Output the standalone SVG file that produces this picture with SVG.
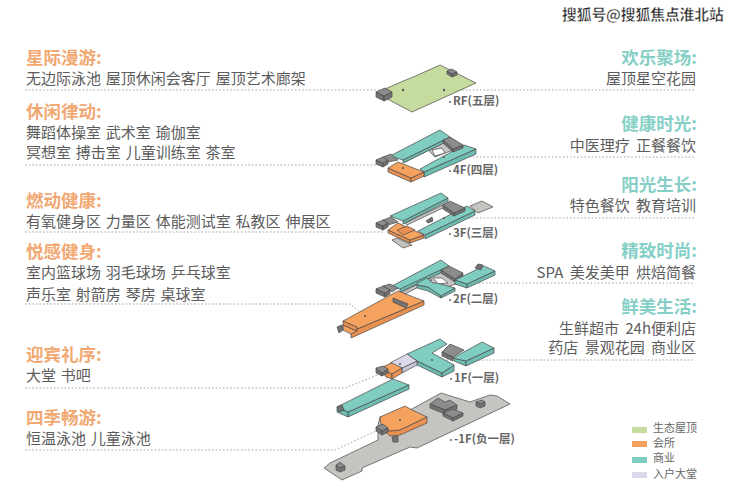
<svg xmlns="http://www.w3.org/2000/svg" width="740" height="498" viewBox="0 0 740 498">
<style>
text{font-family:"Noto Sans CJK SC","Liberation Sans",sans-serif}
.tl{font-size:17.5px;font-weight:700;fill:#f2a873}
.tr{font-size:17.5px;font-weight:700;fill:#85cfc6;text-anchor:end}
.b{font-size:15px;fill:#5c5c5c;word-spacing:1.5px}
.br{font-size:15px;fill:#5c5c5c;text-anchor:end;word-spacing:3px}
.f{font-size:11.5px;font-weight:700;fill:#666}
.lg{font-size:11px;fill:#666}
.wm{font-size:14.7px;font-weight:700;fill:#222;stroke:#fff;stroke-width:.4px}
polygon{stroke:#474747;stroke-width:.7;stroke-linejoin:round}
.g{fill:#c6dc9f}.t{fill:#7fccc1}.ts{fill:#6cbcb1}.o{fill:#f5a25f}.os{fill:#ea9050}
.d{fill:#8c8c8c}.ds{fill:#737373}.l{fill:#dcd8ec}.ls{fill:#c9c5dc}.c{fill:#c5c4c1}.w{fill:#fff}
.ln{stroke:#a3a3a3;stroke-width:1;stroke-dasharray:1.6 2;fill:none}
.dot{fill:#555}
.sw{stroke:none}
</style>
<g id="connectors">
<path class="ln" d="M25 90H403M444 90H695"/>
<path class="ln" d="M25 165H376M444 157H695"/>
<path class="ln" d="M25 232H385M444 218H695"/>
<path class="ln" d="M25 304H350L365 316"/>
<path class="ln" d="M450 283H695"/>
<path class="ln" d="M25 388H345L385 372"/>
<path class="ln" d="M432 360H695"/>
<path class="ln" d="M25 450H335L400 420"/>
</g>
<g id="floor-rf">
<polygon class="g" points="376,93 408,79 411,78 440,65 476,83 412,112"/>
<polygon class="ds" points="376,92 384,96 384,101 376,97"/><polygon class="ds" points="384,96 392,92 392,97 384,101"/>
<polygon class="d" points="376,92 385,88 392,92 384,96"/>
<polygon class="ds" points="447,71 452,74 452,77 447,74"/><polygon class="ds" points="452,74 457,72 457,75 452,77"/>
<polygon class="d" points="447,71 452,69 457,72 452,74"/>
<circle class="dot" cx="403" cy="90" r="1.2"/><circle class="dot" cx="444" cy="90" r="1.2"/>
<circle class="dot" cx="450" cy="102" r=".9"/><text class="f" x="453" y="105">RF(五层)</text>
</g>
<g id="floor-4f">
<polygon class="c" points="426,148 445,140 453,150 435,157"/>
<polygon class="w" points="432,150 442,148 445,153 435,156"/>
<polygon class="ts" points="424,172 476,149 476,154 424,177"/>
<polygon class="t" points="420,169 464,145 476,149 424,172"/>
<polygon class="c" points="403,160 440,141 441,144 405,162"/>
<polygon class="ts" points="403,160 450,137 450,140 403,163"/>
<polygon class="t" points="390,156 440,130 450,137 403,160"/>
<polygon class="ds" points="443,140 453,149 453,152 443,143"/><polygon class="ds" points="453,149 463,145 463,148 453,152"/>
<polygon class="d" points="443,140 450,137 463,145 453,149"/>
<polygon class="os" points="388,168 411,178 411,182 388,172"/><polygon class="os" points="411,178 424,172 424,176 411,182"/>
<polygon class="o" points="388,168 398,162 424,172 411,178"/>
<polygon class="d" points="383,157 391,154 398,160 388,162"/>
<polygon class="ds" points="376,160 383,163 383,167 376,164"/><polygon class="ds" points="383,163 388,160 388,164 383,167"/>
<polygon class="d" points="376,160 383,157 388,160 383,163"/>
<circle class="dot" cx="403" cy="168" r="1"/><circle class="dot" cx="444" cy="157" r="1"/>
<circle class="dot" cx="450" cy="171" r=".9"/><text class="f" x="453" y="174">4F(四层)</text>
</g>
<g id="floor-3f">
<polygon class="c" points="392,240 397,238 412,245 403,248"/>
<polygon class="c" points="470,206 482,201 493,207 478,213"/>
<polygon class="c" points="405,223 445,204 447,206 407,225"/>
<polygon class="ts" points="403,221 448,198 448,201 403,224"/>
<polygon class="t" points="390,216 441,193 448,198 403,221"/>
<polygon class="ts" points="425,235 475,211 475,215 425,239"/>
<polygon class="t" points="418,231 467,206 475,211 425,235"/>
<polygon class="ds" points="443,205 454,213 454,216 443,209"/><polygon class="ds" points="454,213 465,208 465,211 454,216"/>
<polygon class="d" points="443,205 450,201 465,208 454,213"/>
<polygon class="ds" points="426,221 432,217 433,221 428,223"/>
<polygon class="os" points="388,230 410,240 410,243 388,233"/><polygon class="os" points="410,240 424,235 424,238 410,243"/>
<polygon class="o" points="388,230 398,223 424,235 410,240"/>
<polygon class="os" points="397,230 407,226 415,230 403,235"/>
<polygon class="d" points="383,220 391,217 398,222 388,225"/>
<polygon class="ds" points="376,223 383,226 383,230 376,227"/><polygon class="ds" points="383,226 388,223 388,227 383,230"/>
<polygon class="d" points="376,223 383,220 388,223 383,226"/>
<circle class="dot" cx="444" cy="218" r="1"/>
<circle class="dot" cx="450" cy="234" r=".9"/><text class="f" x="453" y="237">3F(三层)</text>
</g>
<g id="floor-2f">
<polygon class="c" points="430,276 441,272 458,283 440,290 420,283"/>
<polygon class="w" points="433,278 442,278 448,283 438,284"/>
<polygon class="c" points="400,293 430,278 432,280 403,295"/>
<polygon class="ts" points="400,288 449,266 449,269 400,292"/>
<polygon class="t" points="390,287 441,260 449,266 400,289"/>
<polygon class="ds" points="441,270 455,279 455,282 441,273"/><polygon class="ds" points="455,279 463,273 463,276 455,282"/>
<polygon class="d" points="441,270 449,266 463,273 455,279"/>
<polygon class="ts" points="417,285 428,287 441,296 441,298 428,291 417,288"/><polygon class="ts" points="441,296 455,288 455,291 441,298"/>
<polygon class="t" points="417,283 427,278 433,283 437,283 455,288 441,296 428,287 417,285"/>
<polygon class="ts" points="455,280 467,284 467,288 455,284"/><polygon class="ts" points="467,284 495,271 495,275 467,288"/>
<polygon class="t" points="455,280 484,266 495,271 467,284"/>
<polygon class="ds" points="475,268 478,264 483,265 481,270"/>
<polygon class="os" points="357,329 424,301 424,305 351,338 351,334"/>
<polygon class="o" points="343,325 357,331 351,334 343,330"/>
<polygon class="os" points="343,321 357,327 357,331 343,325"/>
<polygon class="o" points="343,321 398,291 424,301 357,329 357,327"/>
<polygon class="ds" points="393,298 408,304 406,308 393,302"/>
<polygon class="ds" points="337,327 342,325 343,330 339,333"/>
<polygon class="d" points="383,286 390,284 398,288 392,292"/>
<polygon class="ds" points="376,289 385,293 385,297 376,293"/><polygon class="ds" points="385,293 390,290 390,294 385,297"/>
<polygon class="d" points="376,289 383,286 390,290 385,293"/>
<circle class="dot" cx="365" cy="316" r="1"/>
<circle class="dot" cx="450" cy="300" r=".9"/><text class="f" x="453" y="303">2F(二层)</text>
</g>
<g id="floor-1f">
<polygon class="ts" points="417,361 442,373 442,377 417,365"/><polygon class="ts" points="442,373 454,365 454,371 442,377"/>
<polygon class="t" points="407,354 440,339 447,344 432,353 454,365 442,373 417,361"/>
<polygon class="ds" points="442,352 453,357 453,361 442,356"/>
<polygon class="d" points="442,352 450,344 464,350 453,357"/>
<polygon class="ts" points="454,358 466,361 466,366 454,361"/><polygon class="ts" points="466,361 494,348 494,353 466,366"/>
<polygon class="t" points="453,358 482,342 494,348 466,361"/>
<polygon class="ls" points="402,368 417,361 417,365 402,373"/>
<polygon class="l" points="390,363 407,354 417,361 402,368"/>
<polygon class="os" points="380,368 392,374 392,379 386,377"/><polygon class="os" points="392,374 402,368 402,373 392,379"/>
<polygon class="o" points="380,368 392,363 402,368 392,374"/>
<polygon class="ds" points="376,368 382,373 382,376 376,373"/><polygon class="ds" points="382,373 388,369 388,373 382,376"/>
<polygon class="d" points="376,368 383,366 388,369 382,373"/>
<polygon class="ts" points="348,412 409,385 409,389 348,417"/><polygon class="ts" points="337,407 348,412 348,417 337,412"/>
<polygon class="t" points="337,407 393,379 409,385 348,412"/>
<polygon class="ds" points="337,407 342,405 344,410 339,412"/>
<circle class="dot" cx="400" cy="364" r="1"/><circle class="dot" cx="432" cy="360" r="1"/>
<circle class="dot" cx="451" cy="379" r=".9"/><text class="f" x="454" y="382">1F(一层)</text>
</g>
<g id="floor-b1">
<polygon class="c" points="324,468 330,463 378,440 378,425 380,417 410,410 441,393 470,402 490,395 497,396 510,404 417,448 410,447 362,468 362,471 342,480"/>
<polygon class="d" points="430,404 438,398 445,402 450,400 457,405 445,410"/>
<polygon class="ds" points="430,404 445,410 445,414 430,408"/><polygon class="ds" points="445,410 457,405 457,409 445,414"/>
<polygon class="d" points="443,413 453,409 463,413 453,418"/>
<polygon class="ds" points="443,413 453,418 453,421 443,416"/><polygon class="ds" points="453,418 463,413 463,416 453,421"/>
<polygon class="os" points="381,425 390,431 400,430 427,417 427,423 400,435 390,436 386,432"/>
<polygon class="o" points="380,417 405,406 412,410 427,417 400,430 390,431 381,425"/>
<polygon class="ds" points="376,427 382,431 382,435 376,431"/><polygon class="ds" points="382,431 388,428 388,432 382,435"/>
<polygon class="d" points="376,427 383,424 388,428 382,431"/>
<polygon class="ds" points="392,437 398,436 398,442 393,442"/>
<polygon class="ds" points="336,465 340,468 345,466 345,470 340,472 336,470"/>
<polygon class="d" points="336,465 340,462 345,466 340,468"/>
<polygon class="ds" points="476,402 480,404 485,402 485,406 480,408 476,406"/>
<polygon class="d" points="476,402 482,400 485,402 480,404"/>
<circle class="dot" cx="400" cy="420" r="1"/>
<circle class="dot" cx="451" cy="440" r=".9"/><text class="f" x="454" y="443">-1F(负一层)</text>
</g>
<g id="labels-left">
<text class="tl" x="26" y="64">星际漫游:</text><text class="b" x="26" y="84">无边际泳池 屋顶休闲会客厅 屋顶艺术廊架</text>
<text class="tl" x="26" y="118">休闲律动:</text><text class="b" x="26" y="138">舞蹈体操室 武术室 瑜伽室</text><text class="b" x="26" y="158">冥想室 搏击室 儿童训练室 茶室</text>
<text class="tl" x="26" y="207">燃动健康:</text><text class="b" x="26" y="227">有氧健身区 力量区 体能测试室 私教区 伸展区</text>
<text class="tl" x="26" y="258">悦感健身:</text><text class="b" x="26" y="278">室内篮球场 羽毛球场 乒乓球室</text><text class="b" x="26" y="300">声乐室 射箭房 琴房 桌球室</text>
<text class="tl" x="26" y="361">迎宾礼序:</text><text class="b" x="26" y="381">大堂 书吧</text>
<text class="tl" x="26" y="424">四季畅游:</text><text class="b" x="26" y="444">恒温泳池 儿童泳池</text>
</g>
<g id="labels-right">
<text class="tr" x="697" y="64">欢乐聚场:</text><text class="br" x="696" y="84">屋顶星空花园</text>
<text class="tr" x="697" y="130">健康时光:</text><text class="br" x="696" y="151">中医理疗 正餐餐饮</text>
<text class="tr" x="697" y="191">阳光生长:</text><text class="br" x="696" y="211">特色餐饮 教育培训</text>
<text class="tr" x="697" y="257">精致时尚:</text><text class="br" x="696" y="278">SPA 美发美甲 烘焙简餐</text>
<text class="tr" x="697" y="313">鲜美生活:</text><text class="br" x="696" y="334">生鲜超市 24h便利店</text><text class="br" x="696" y="353">药店 景观花园 商业区</text>
</g>
<g id="legend">
<rect class="sw g" x="632" y="427" width="15" height="6"/><text class="lg" x="653" y="432">生态屋顶</text>
<rect class="sw o" x="632" y="441" width="15" height="6"/><text class="lg" x="653" y="447">会所</text>
<rect class="sw t" x="632" y="457" width="15" height="6"/><text class="lg" x="653" y="462">商业</text>
<rect class="sw l" x="632" y="472" width="15" height="6"/><text class="lg" x="653" y="478">入户大堂</text>
</g>
<text class="wm" x="562" y="20">搜狐号@搜狐焦点淮北站</text>
</svg>
